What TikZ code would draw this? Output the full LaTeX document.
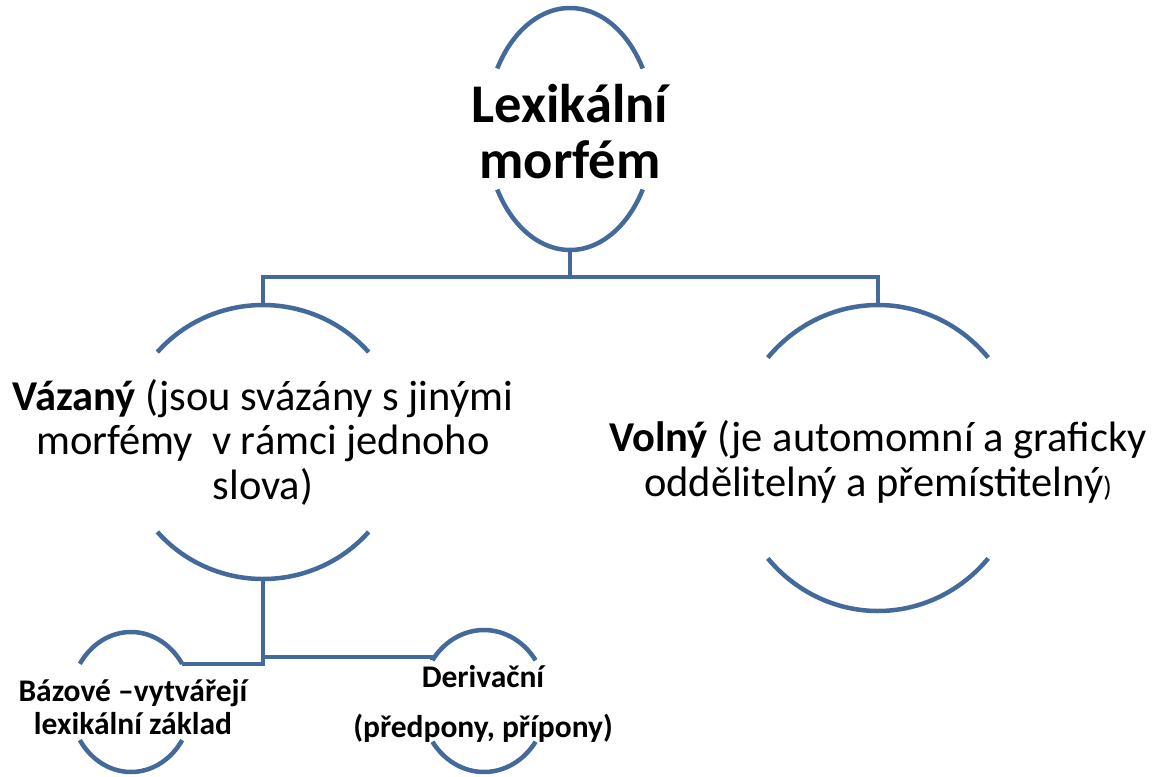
\documentclass[tikz,border=0pt]{standalone}
\usepackage{fontspec}
\setmainfont{Carlito}
\usetikzlibrary{calc}
\definecolor{arcblue}{RGB}{68,105,155}
\tikzset{
  arcline/.style={draw=arcblue, line width=4.5pt},
  conn/.style={draw=arcblue, line width=4.5pt},
  bigtxt/.style={align=center, font=\fontsize{54.5}{56}\selectfont\bfseries, inner sep=0pt},
  midtxt/.style={align=center, font=\fontsize{42.5}{44.5}\selectfont, inner sep=0pt},
  smalltxt/.style={align=center, font=\fontsize{31.5}{33}\selectfont\bfseries, inner sep=0pt}
}
\begin{document}
\begin{tikzpicture}[x=1pt,y=-1pt]
\useasboundingbox (0,0) rectangle (1153,776);

% ---- top ellipse: Lexikální morfém
\node[bigtxt] (root) at (570,132) {Lexikální\\morfém};
\draw[arcline] (570,129) ++(30:84 and -121) arc[start angle=30,end angle=150,x radius=84,y radius=-121];
\draw[arcline] (570,129) ++(210:84 and -121) arc[start angle=210,end angle=330,x radius=84,y radius=-121];
\coordinate (rootbot) at (570,250);

% ---- left ellipse: Vázaný
\node[midtxt] (vaz) at (263,442) {\textbf{Vázaný} (jsou svázány s jinými\\morfémy\ \ v rámci jednoho\\slova)};
\draw[arcline] (263,442) ++(41:140 and -137) arc[start angle=41,end angle=139,x radius=140,y radius=-137];
\draw[arcline] (263,442) ++(221:140 and -137) arc[start angle=221,end angle=319,x radius=140,y radius=-137];
\coordinate (vaztop) at (263,305);
\coordinate (vazbot) at (263,579);

% ---- right ellipse: Volný
\node[midtxt] (vol) at (878,462) {\textbf{Volný} (je automomní a graficky\\oddělitelný a přemístitelný{\fontsize{28}{30}\selectfont)}};
\draw[arcline] (878,458) ++(41:146 and -153) arc[start angle=41,end angle=139,x radius=146,y radius=-153];
\draw[arcline] (878,458) ++(221:146 and -153) arc[start angle=221,end angle=319,x radius=146,y radius=-153];
\coordinate (voltop) at (878,305);

% ---- small left: Bázové
\node[smalltxt] (baz) at (133,707) {Bázové –vytvářejí\\lexikální základ};
\draw[arcline] (131,702) ++(33:61 and -70) arc[start angle=33,end angle=147,x radius=61,y radius=-70];
\draw[arcline] (131,702) ++(213:61 and -70) arc[start angle=213,end angle=327,x radius=61,y radius=-70];
\coordinate (baztr) at ($(131,702)+(33:61 and -70)$);

% ---- small right: Derivační
\node[smalltxt] (der) at (483,704) {Derivační\\[17pt](předpony, přípony)};
\draw[arcline] (484,701) ++(35:63 and -71) arc[start angle=35,end angle=145,x radius=63,y radius=-71];
\draw[arcline] (484,701) ++(215:63 and -71) arc[start angle=215,end angle=325,x radius=63,y radius=-71];
\coordinate (dertl) at ($(484,701)+(145:63 and -71)$);

% ---- connectors
\coordinate (bar1) at (570,277);
\draw[conn] (rootbot) -- (bar1);
\draw[conn] (vaztop) |- (bar1) -| (voltop);
\coordinate (bar2) at (263,657);
\draw[conn] (vazbot) -- (bar2);
\draw[conn] (baztr) -- (baztr -| bar2) -- (bar2) -- (bar2 -| dertl) -- (dertl);
\end{tikzpicture}
\end{document}
